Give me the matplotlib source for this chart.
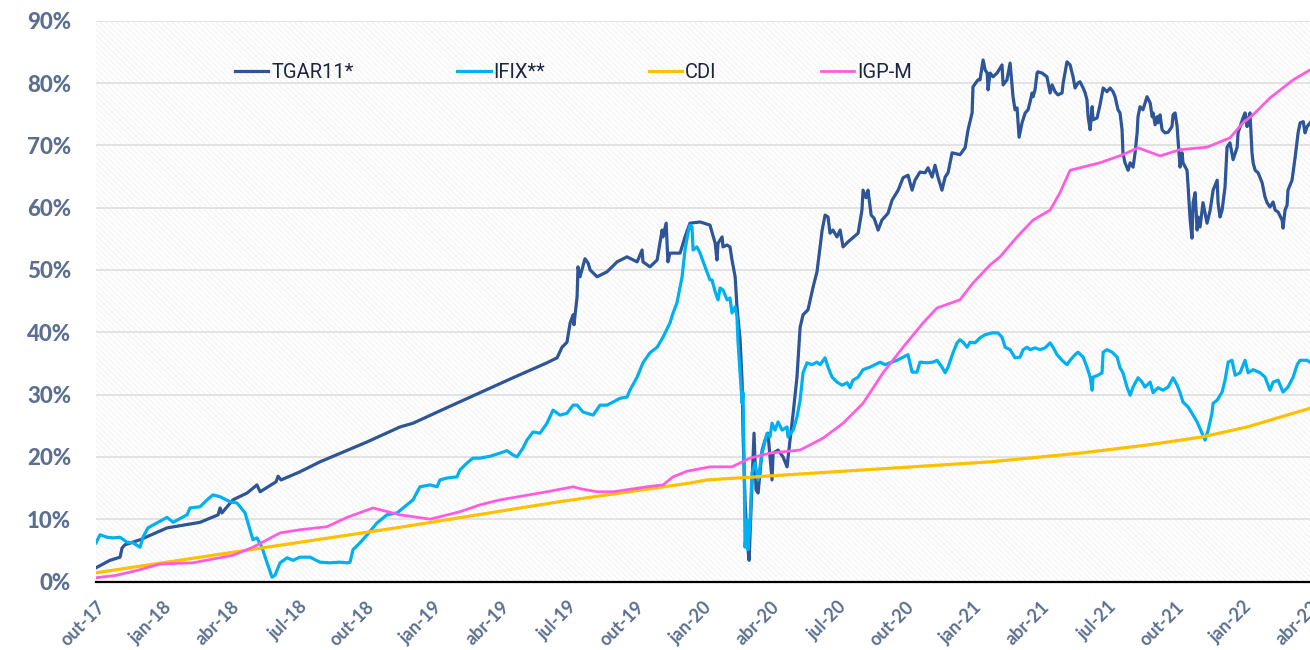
import numpy as np
import matplotlib.pyplot as plt
from matplotlib.patches import Rectangle

# x = months since out-17, y = accumulated return (%)
tgar = [(0.00, 2.2), (0.62, 3.4), (1.07, 3.9), (1.16, 5.4), (1.29, 5.9), (1.96, 6.7), (3.16, 8.6),
        (4.63, 9.5), (5.43, 10.7), (5.52, 11.8), (5.60, 11.0), (6.09, 13.1), (6.72, 14.2), (7.16, 15.5),
        (7.30, 14.4), (8.01, 16.0), (8.10, 16.9), (8.23, 16.3), (9.07, 17.6), (9.96, 19.2), (12.06, 22.4),
        (13.52, 24.8), (14.10, 25.4), (15.61, 27.9), (17.08, 30.3), (18.55, 32.7), (20.06, 35.1),
        (20.51, 35.9), (20.73, 37.6), (20.95, 38.4), (21.09, 41.5), (21.22, 42.8), (21.26, 41.2),
        (21.40, 45.7), (21.44, 50.5), (21.53, 48.9), (21.75, 51.8), (21.89, 51.1), (21.98, 50.0),
        (22.29, 48.9), (22.73, 49.7), (23.18, 51.3), (23.62, 52.1), (24.07, 51.3), (24.29, 53.2),
        (24.33, 51.3), (24.64, 50.5), (24.96, 51.6), (25.18, 56.4), (25.22, 55.3), (25.36, 57.5),
        (25.44, 51.3), (25.53, 52.7), (25.98, 52.7), (26.20, 55.3), (26.42, 57.5), (26.87, 57.7),
        (27.31, 57.2), (27.54, 54.3), (27.62, 51.6), (27.67, 54.3), (27.85, 55.3), (27.89, 53.7),
        (28.07, 54.0), (28.20, 53.7), (28.29, 51.6), (28.43, 48.9), (28.51, 44.1), (28.65, 38.8),
        (28.74, 31.9), (28.78, 23.8), (28.87, 13.1), (28.96, 6.7), (29.05, 3.4), (29.18, 15.8),
        (29.27, 23.8), (29.36, 14.7), (29.45, 14.2), (29.63, 21.1), (29.76, 22.7), (29.89, 23.8),
        (30.07, 16.3), (30.12, 20.6), (30.34, 21.1), (30.56, 20.0), (30.74, 18.4), (30.87, 22.7),
        (31.01, 27.0), (31.18, 32.8), (31.32, 40.8), (31.45, 42.8), (31.67, 43.6), (31.90, 47.3),
        (32.07, 49.7), (32.30, 56.4), (32.43, 58.8), (32.56, 58.5), (32.65, 55.9), (32.78, 56.4),
        (32.96, 55.3), (33.10, 56.4), (33.23, 53.7), (33.45, 54.5), (33.90, 55.9), (34.07, 59.6),
        (34.12, 62.8), (34.25, 61.6), (34.34, 62.8), (34.48, 58.8), (34.61, 58.3), (34.79, 56.4),
        (34.96, 58.0), (35.23, 59.1), (35.41, 61.2), (35.68, 62.8), (35.90, 64.8), (36.12, 65.2),
        (36.30, 62.8), (36.43, 64.4), (36.65, 65.7), (36.88, 65.6), (37.01, 66.4), (37.19, 64.9),
        (37.32, 66.8), (37.46, 64.8), (37.63, 62.8), (37.77, 64.9), (37.90, 65.6), (38.08, 68.8),
        (38.43, 68.5), (38.66, 69.6), (38.79, 72.5), (38.97, 75.2), (39.01, 79.4), (39.23, 80.5),
        (39.32, 80.5), (39.46, 83.7), (39.55, 82.1), (39.64, 81.6), (39.68, 78.9), (39.77, 81.6),
        (39.90, 81.0), (40.08, 81.6), (40.30, 82.9), (40.35, 79.7), (40.52, 80.5), (40.66, 83.2),
        (40.75, 79.4), (40.79, 77.8), (40.88, 75.7), (40.97, 76.0), (41.06, 71.3), (41.19, 73.6),
        (41.33, 75.2), (41.46, 75.7), (41.55, 77.0), (41.64, 78.4), (41.68, 77.8), (41.77, 78.9),
        (41.86, 81.6), (41.90, 81.8), (42.08, 81.6), (42.30, 81.0), (42.44, 78.4), (42.53, 79.7),
        (42.66, 78.6), (42.79, 78.1), (42.97, 78.4), (43.02, 80.0), (43.19, 83.4), (43.33, 82.9),
        (43.46, 81.0), (43.55, 79.2), (43.68, 80.0), (43.77, 80.2), (43.91, 79.2), (44.00, 78.4),
        (44.08, 77.3), (44.13, 74.6), (44.22, 72.5), (44.31, 76.2), (44.35, 74.1), (44.53, 74.4),
        (44.66, 76.5), (44.80, 79.2), (44.97, 78.6), (45.11, 79.2), (45.24, 78.6), (45.33, 77.8),
        (45.46, 75.7), (45.55, 75.2), (45.64, 72.5), (45.68, 68.8), (45.77, 67.2), (45.91, 66.0),
        (46.00, 67.2), (46.13, 66.5), (46.22, 68.8), (46.31, 72.0), (46.35, 74.6), (46.44, 76.2),
        (46.57, 75.7), (46.75, 77.8), (46.89, 76.8), (46.98, 74.6), (47.02, 75.2), (47.11, 73.3),
        (47.20, 74.6), (47.24, 73.6), (47.33, 74.9), (47.42, 72.5), (47.55, 72.0), (47.69, 72.1),
        (47.86, 73.0), (47.91, 74.9), (48.00, 75.2), (48.09, 73.0), (48.13, 70.9), (48.22, 66.5),
        (48.31, 68.8), (48.35, 67.2), (48.53, 66.0), (48.58, 63.3), (48.67, 58.0), (48.75, 55.1),
        (48.80, 60.8), (48.89, 62.4), (48.98, 56.4), (49.02, 58.5), (49.11, 56.9), (49.24, 60.8),
        (49.42, 57.5), (49.56, 59.6), (49.69, 62.8), (49.87, 64.4), (49.91, 60.8), (50.00, 58.5),
        (50.09, 59.6), (50.22, 63.3), (50.31, 69.7), (50.44, 70.4), (50.58, 67.7), (50.76, 69.7),
        (50.80, 72.0), (50.89, 73.0), (51.02, 74.4), (51.11, 75.2), (51.20, 73.0), (51.25, 74.1),
        (51.33, 75.2), (51.42, 68.8), (51.47, 67.2), (51.56, 66.0), (51.69, 65.6), (51.87, 64.0),
        (52.00, 61.7), (52.09, 60.8), (52.22, 60.1), (52.36, 60.9), (52.45, 59.6), (52.58, 59.3),
        (52.76, 58.0), (52.80, 56.7), (52.89, 59.6), (52.98, 60.4), (53.02, 62.8), (53.20, 64.4),
        (53.34, 68.1), (53.47, 72.0), (53.56, 73.6), (53.70, 73.8), (53.78, 72.0), (53.87, 73.0),
        (54.00, 73.6)]

ifix = [(0.00, 6.2), (0.18, 7.5), (0.49, 7.1), (0.76, 7.0), (1.07, 7.1), (1.38, 6.3), (1.65, 6.2),
        (1.96, 5.5), (2.09, 7.1), (2.31, 8.6), (2.71, 9.4), (3.16, 10.3), (3.43, 9.5), (4.05, 10.7),
        (4.18, 11.8), (4.63, 12.0), (4.94, 13.1), (5.20, 13.9), (5.52, 13.6), (5.96, 12.8), (6.27, 12.6),
        (6.41, 12.0), (6.63, 11.0), (6.85, 8.3), (6.98, 6.7), (7.16, 7.0), (7.38, 5.5), (7.61, 3.0),
        (7.83, 0.7), (7.96, 1.0), (8.19, 3.0), (8.50, 3.8), (8.76, 3.4), (9.07, 3.9), (9.52, 3.9),
        (9.96, 3.1), (10.41, 3.0), (10.85, 3.1), (11.17, 3.0), (11.30, 3.1), (11.43, 5.1), (11.74, 6.2),
        (12.06, 7.5), (12.50, 9.4), (12.94, 10.7), (13.39, 11.0), (14.10, 13.1), (14.41, 15.2),
        (14.86, 15.5), (15.17, 15.2), (15.30, 16.3), (15.61, 16.6), (16.06, 16.8), (16.19, 17.9),
        (16.50, 19.0), (16.77, 19.8), (17.08, 19.8), (17.53, 20.1), (17.97, 20.6), (18.28, 21.0),
        (18.55, 20.3), (18.73, 20.0), (18.99, 21.4), (19.17, 22.7), (19.44, 24.0), (19.75, 23.8),
        (20.06, 25.4), (20.33, 27.5), (20.64, 26.7), (20.95, 27.0), (21.22, 28.3), (21.40, 28.3),
        (21.66, 27.2), (22.11, 26.7), (22.42, 28.3), (22.73, 28.3), (23.00, 28.8), (23.31, 29.4),
        (23.62, 29.6), (23.75, 30.7), (24.07, 32.8), (24.33, 35.1), (24.64, 36.7), (24.96, 37.6),
        (25.22, 39.2), (25.53, 41.5), (25.67, 43.1), (25.84, 44.7), (25.98, 47.3), (26.07, 48.9),
        (26.20, 53.2), (26.33, 55.9), (26.42, 57.2), (26.51, 56.9), (26.56, 53.2), (26.73, 53.7),
        (26.87, 52.7), (27.09, 50.5), (27.31, 48.4), (27.40, 48.4), (27.54, 46.5), (27.67, 45.2),
        (27.76, 47.1), (27.89, 46.8), (28.07, 45.2), (28.20, 45.5), (28.29, 43.1), (28.43, 44.1),
        (28.51, 42.5), (28.56, 38.3), (28.65, 33.5), (28.74, 28.6), (28.78, 30.3), (28.83, 18.4),
        (28.87, 5.5), (28.96, 9.9), (29.00, 5.1), (29.09, 9.4), (29.18, 17.4), (29.31, 19.0),
        (29.45, 16.3), (29.63, 20.6), (29.85, 23.8), (29.98, 23.2), (30.07, 25.4), (30.20, 24.3),
        (30.34, 25.6), (30.52, 24.3), (30.74, 24.8), (30.78, 23.2), (31.01, 24.3), (31.18, 26.4),
        (31.32, 29.1), (31.45, 33.5), (31.63, 35.1), (31.85, 34.8), (32.07, 35.2), (32.21, 34.8),
        (32.43, 35.9), (32.56, 34.4), (32.74, 32.8), (32.96, 32.0), (33.19, 31.5), (33.41, 31.9),
        (33.54, 31.1), (33.67, 32.3), (33.90, 32.8), (34.12, 34.0), (34.43, 34.4), (34.65, 34.8),
        (34.88, 35.2), (35.10, 34.8), (35.32, 35.1), (35.63, 35.5), (35.90, 36.0), (36.12, 36.4),
        (36.30, 33.6), (36.52, 33.6), (36.65, 35.2), (36.97, 35.1), (37.23, 35.2), (37.41, 35.5),
        (37.63, 34.4), (37.77, 33.5), (37.90, 34.4), (38.12, 36.7), (38.30, 38.3), (38.43, 38.8),
        (38.57, 38.4), (38.75, 37.6), (38.88, 38.4), (39.10, 38.3), (39.32, 39.1), (39.55, 39.6),
        (39.86, 39.9), (40.12, 39.9), (40.30, 39.2), (40.44, 37.6), (40.66, 37.2), (40.88, 35.9),
        (41.10, 36.0), (41.24, 37.2), (41.41, 37.6), (41.55, 37.2), (41.77, 37.5), (41.99, 37.2),
        (42.22, 37.5), (42.44, 38.3), (42.57, 37.6), (42.75, 36.4), (42.97, 35.5), (43.19, 34.8),
        (43.33, 35.5), (43.55, 36.4), (43.68, 36.8), (43.91, 36.0), (44.08, 34.4), (44.22, 32.8),
        (44.31, 30.7), (44.35, 32.8), (44.57, 33.1), (44.75, 33.5), (44.80, 36.8), (44.97, 37.2),
        (45.20, 36.8), (45.42, 36.0), (45.55, 34.3), (45.68, 33.5), (45.86, 31.2), (46.00, 29.9),
        (46.13, 31.2), (46.35, 32.7), (46.53, 32.0), (46.66, 31.2), (46.89, 32.0), (47.02, 30.3),
        (47.24, 31.1), (47.46, 30.7), (47.69, 31.2), (47.91, 32.7), (48.09, 31.5), (48.22, 30.3),
        (48.35, 28.8), (48.58, 28.0), (48.75, 27.0), (48.98, 25.6), (49.20, 23.8), (49.33, 22.7),
        (49.47, 24.3), (49.64, 27.0), (49.69, 28.6), (49.87, 29.1), (50.09, 30.4), (50.22, 32.3),
        (50.36, 35.2), (50.53, 35.5), (50.67, 33.1), (50.89, 33.5), (51.11, 35.5), (51.25, 33.5),
        (51.47, 34.0), (51.78, 33.5), (52.00, 32.8), (52.22, 30.7), (52.36, 32.0), (52.58, 32.3),
        (52.80, 30.4), (53.02, 31.2), (53.25, 32.8), (53.43, 34.8), (53.56, 35.5), (53.87, 35.5),
        (54.00, 35.2)]

cdi = [(0.00, 1.4), (13.52, 8.7), (20.6, 12.8), (26.42, 15.8), (27.18, 16.3), (39.77, 19.2),
       (43.77, 20.6), (46.75, 21.9), (49.20, 23.2), (51.20, 24.8), (54.00, 27.8)]

igpm = [(0.00, 0.6), (0.93, 1.0), (1.96, 1.9), (2.85, 2.8), (4.31, 3.0), (6.09, 4.2), (6.98, 5.5),
        (7.61, 6.7), (8.19, 7.8), (9.07, 8.3), (10.28, 8.8), (11.17, 10.3), (12.32, 11.8), (13.52, 10.7),
        (14.86, 10.0), (16.19, 11.2), (17.08, 12.3), (17.97, 13.1), (20.06, 14.4), (21.22, 15.2),
        (21.53, 14.9), (22.29, 14.4), (23.00, 14.4), (24.51, 15.2), (25.22, 15.5), (25.67, 16.8),
        (26.29, 17.7), (27.31, 18.4), (28.29, 18.4), (29.09, 19.8), (29.98, 20.6), (30.52, 20.8),
        (31.32, 21.1), (32.34, 23.0), (33.23, 25.4), (34.12, 28.6), (35.01, 33.5), (35.90, 37.6),
        (36.79, 41.5), (37.41, 43.9), (38.43, 45.2), (39.01, 47.9), (39.77, 50.8), (40.21, 52.1),
        (40.97, 55.3), (41.68, 58.0), (42.44, 59.6), (42.88, 62.4), (43.33, 66.0), (44.66, 67.2),
        (45.68, 68.5), (46.35, 69.6), (47.33, 68.3), (48.22, 69.3), (49.42, 69.7), (50.44, 71.2),
        (51.02, 73.6), (51.47, 74.9), (52.22, 77.6), (53.25, 80.5), (54.00, 82.1)]

tick_labels = ['out-17', 'jan-18', 'abr-18', 'jul-18', 'out-18', 'jan-19', 'abr-19', 'jul-19',
               'out-19', 'jan-20', 'abr-20', 'jul-20', 'out-20', 'jan-21', 'abr-21', 'jul-21',
               'out-21', 'jan-22', 'abr-22']
tick_months = np.arange(0, 55, 3)

series = [('TGAR11*', tgar, '#2d5597', 2.3),
          ('IFIX**', ifix, '#00b0f0', 2.3),
          ('CDI', cdi, '#ffc000', 2.3),
          ('IGP-M', igpm, '#ff5ce1', 2.0)]

label_color = '#5b6f92'
plt.rcParams['hatch.linewidth'] = 0.6

fig = plt.figure(figsize=(13.1, 6.5), dpi=100)
ax = fig.add_axes([96 / 1310, 1 - 581.5 / 650, 1 - 96 / 1310, (581.5 - 20.7) / 650])

# faint diagonal texture of the plot area
ax.add_patch(Rectangle((0, 0), 1, 1, transform=ax.transAxes, facecolor='white',
                       edgecolor='#efefef', hatch='\\\\\\\\\\\\', lw=0, zorder=0.1))

for name, pts, col, lw in series:
    x, y = zip(*pts)
    ax.plot(x, y, color=col, lw=lw, label=name, solid_joinstyle='round', zorder=3)

ax.set_xlim(0, 54)
ax.set_ylim(0, 90)
ax.set_axisbelow(True)
ax.yaxis.grid(True, color='#e1e1e1', lw=1.3)

for s in ['top', 'right', 'left']:
    ax.spines[s].set_visible(False)
ax.spines['bottom'].set_color('black')
ax.spines['bottom'].set_linewidth(1.6)
ax.spines['bottom'].set_zorder(4)

ax.set_yticks(np.arange(0, 91, 10))
ax.set_yticklabels([f'{v}%' for v in range(0, 91, 10)])
ax.tick_params(axis='y', length=0, pad=18, labelcolor=label_color)
for t in ax.get_yticklabels():
    t.set_fontfamily('Lato')
    t.set_fontweight('black')
    t.set_fontsize(16)

ax.set_xticks(tick_months)
ax.set_xticklabels(tick_labels, rotation=45, ha='right', va='top', rotation_mode='anchor')
ax.tick_params(axis='x', length=0, pad=12, labelcolor=label_color)
for t in ax.get_xticklabels():
    t.set_fontfamily('Lato')
    t.set_fontweight('bold')
    t.set_fontsize(13)

leg = ax.legend(loc='center left', bbox_to_anchor=(235 / 1310, 1 - 73 / 650),
                bbox_transform=fig.transFigure, ncol=4, frameon=False,
                prop={'family': 'Roboto', 'size': 14.5}, handlelength=1.65,
                handletextpad=0.15, columnspacing=5.15, borderpad=0, borderaxespad=0)
for t in leg.get_texts():
    t.set_color('#1c2541')

fig.savefig('out.png', dpi=100, facecolor='white')
